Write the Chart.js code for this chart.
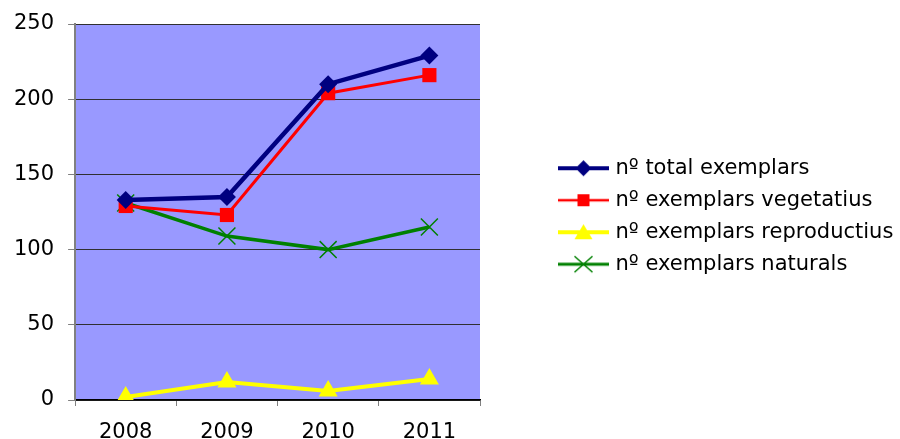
<!DOCTYPE html>
<html>
<head>
<meta charset="utf-8">
<script src="https://cdn.jsdelivr.net/npm/chart.js@4"></script>
<style>
    html, body { margin: 0; padding: 0; background: #ffffff; }
    #wrap { width: 900px; height: 439px; }
</style>
</head>
<body>
<div id="wrap"><canvas id="chart" width="900" height="439"></canvas></div>
<script>
// Chart data
const years = ['2008', '2009', '2010', '2011'];
const totalExemplars = [133, 135, 210, 229];
const vegetatius = [129, 123, 204, 216];
const reproductius = [2, 12, 6, 14];
const naturals = [131, 109, 100, 115];
const yTicks = [0, 50, 100, 150, 200, 250];

const seriesNames = [
    'nº total exemplars',
    'nº exemplars vegetatius',
    'nº exemplars reproductius',
    'nº exemplars naturals'
];

// Build a little legend picture: line with marker in the middle
function legendIcon(color, style, lineWidth) {
    const c = document.createElement('canvas');
    c.width = 130;
    c.height = 20;
    const ctx = c.getContext('2d');
    const x0 = 75, x1 = 126, cx = (x0 + x1) / 2, cy = 10;
    ctx.strokeStyle = color;
    ctx.lineWidth = lineWidth;
    ctx.beginPath();
    ctx.moveTo(x0, cy);
    ctx.lineTo(x1, cy);
    ctx.stroke();
    ctx.fillStyle = color;
    ctx.beginPath();
    if (style === 'diamond') {
        ctx.moveTo(cx, cy - 8);
        ctx.lineTo(cx + 8, cy);
        ctx.lineTo(cx, cy + 8);
        ctx.lineTo(cx - 8, cy);
        ctx.closePath();
        ctx.fill();
    } else if (style === 'square') {
        ctx.rect(cx - 6, cy - 6, 12, 12);
        ctx.fill();
    } else if (style === 'triangle') {
        ctx.moveTo(cx, cy - 8);
        ctx.lineTo(cx + 9, cy + 7);
        ctx.lineTo(cx - 9, cy + 7);
        ctx.closePath();
        ctx.fill();
    } else {
        ctx.lineWidth = 1.5;
        ctx.moveTo(cx - 9, cy - 8);
        ctx.lineTo(cx + 9, cy + 8);
        ctx.moveTo(cx + 9, cy - 8);
        ctx.lineTo(cx - 9, cy + 8);
        ctx.stroke();
    }
    return c;
}

const legendIcons = [
    legendIcon('#000080', 'diamond', 4),
    legendIcon('#ff0000', 'square', 2.5),
    legendIcon('#ffff00', 'triangle', 4),
    legendIcon('#008000', 'cross', 3)
];

// Lavender plot background
const plotBackground = {
    id: 'plotBackground',
    beforeDraw(chart) {
        const { ctx, chartArea } = chart;
        ctx.save();
        ctx.fillStyle = '#9999ff';
        ctx.fillRect(chartArea.left, chartArea.top, chartArea.right - chartArea.left, chartArea.bottom - chartArea.top);
        ctx.restore();
    }
};

document.addEventListener('DOMContentLoaded', function () {
    const ctx = document.getElementById('chart').getContext('2d');
    new Chart(ctx, {
        type: 'line',
        data: {
            labels: years,
            datasets: [{
                label: seriesNames[0],
                data: totalExemplars,
                borderColor: '#000080',
                backgroundColor: '#000080',
                borderWidth: 4.5,
                pointStyle: 'rectRot',
                pointRadius: 9,
                pointBorderWidth: 0
            }, {
                label: seriesNames[1],
                data: vegetatius,
                borderColor: '#ff0000',
                backgroundColor: '#ff0000',
                borderWidth: 3,
                pointStyle: 'rect',
                pointRadius: 10,
                pointBorderWidth: 0
            }, {
                label: seriesNames[2],
                data: reproductius,
                borderColor: '#ffff00',
                backgroundColor: '#ffff00',
                borderWidth: 4,
                pointStyle: 'triangle',
                pointRadius: 11,
                pointBorderWidth: 0
            }, {
                label: seriesNames[3],
                data: naturals,
                borderColor: '#008000',
                backgroundColor: '#008000',
                borderWidth: 3.5,
                pointStyle: 'crossRot',
                pointRadius: 12,
                pointBorderWidth: 1.5
            }]
        },
        options: {
            responsive: false,
            animation: false,
            layout: {
                padding: { left: 0, top: 24, right: 0, bottom: 0 }
            },
            plugins: {
                legend: {
                    position: 'right',
                    fullSize: false,
                    maxWidth: 420,
                    // empty title only nudges the rows down a little
                    title: { display: true, text: '', padding: 0, font: { size: 7 } },
                    labels: {
                        usePointStyle: true,
                        pointStyleWidth: 114,
                        padding: 11,
                        color: '#000000',
                        font: { family: 'DejaVu Sans', size: 21 },
                        generateLabels(chart) {
                            return chart.data.datasets.map((ds, i) => ({
                                text: ds.label,
                                fontColor: '#000000',
                                pointStyle: legendIcons[i],
                                fillStyle: ds.borderColor,
                                strokeStyle: ds.borderColor,
                                lineWidth: 0,
                                hidden: false,
                                datasetIndex: i
                            }));
                        }
                    }
                },
                tooltip: { enabled: false }
            },
            scales: {
                x: {
                    offset: true,
                    afterFit(axis) {
                        axis.height = 39;
                    },
                    grid: {
                        offset: true,
                        drawOnChartArea: false,
                        drawTicks: true,
                        tickLength: 6,
                        tickColor: '#808080'
                    },
                    border: { color: '#000000', width: 1.5 },
                    ticks: {
                        color: '#000000',
                        padding: 14,
                        font: { family: 'DejaVu Sans', size: 21 }
                    }
                },
                y: {
                    min: 0,
                    max: 250,
                    afterBuildTicks(axis) {
                        axis.ticks = yTicks.map(v => ({ value: v }));
                    },
                    afterFit(axis) {
                        axis.paddingTop = 0;
                    },
                    grid: {
                        color: '#303030',
                        lineWidth: 1,
                        tickLength: 7,
                        tickColor: '#808080'
                    },
                    border: { color: '#808080', width: 2 },
                    ticks: {
                        color: '#000000',
                        padding: 14,
                        font: { family: 'DejaVu Sans', size: 21 }
                    }
                }
            }
        },
        plugins: [plotBackground]
    });
});
</script>
</body>
</html>
